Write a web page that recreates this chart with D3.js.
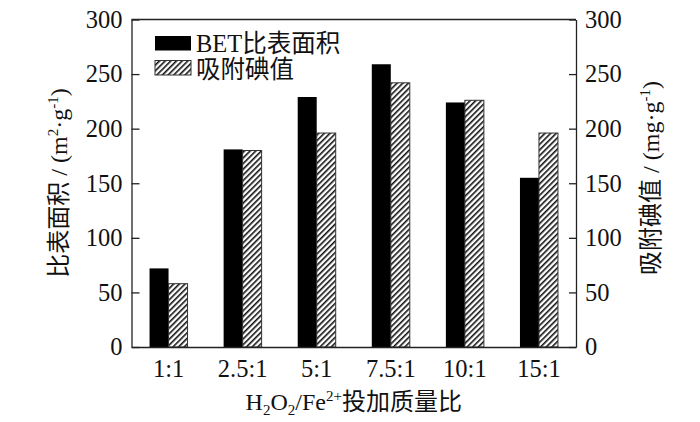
<!DOCTYPE html>
<meta charset="utf-8">
<head>
    <title>BET vs iodine</title>
    <script src="https://cdn.jsdelivr.net/npm/d3@7"></script>
    <style>
        body { margin: 0; background: #fff; }
        text { font-family: "Liberation Serif", "Noto Sans CJK SC", serif; fill: #111; }
    </style>
</head>
<body>
<div id="chart"></div>
<script>
    // data
    var ratios = ["1:1", "2.5:1", "5:1", "7.5:1", "10:1", "15:1"];
    var betArea = [72, 181, 229, 259, 224, 155];      // m2/g
    var iodine = [58, 180, 196, 242, 226, 196];       // mg/g
    var yTicks = [0, 50, 100, 150, 200, 250, 300];

    var margin = { top: 19.5, right: 124, bottom: 75, left: 131.5 },
        width = 700,
        height = 422,
        innerW = width - margin.left - margin.right,
        innerH = height - margin.top - margin.bottom;

    var svg = d3.select("#chart").append("svg")
        .attr("width", width)
        .attr("height", height);

    // hatch pattern
    var defs = svg.append("defs");
    defs.append("pattern")
        .attr("id", "hatch")
        .attr("patternUnits", "userSpaceOnUse")
        .attr("width", 4)
        .attr("height", 4)
        .attr("patternTransform", "rotate(45)")
        .append("rect")
        .attr("x", 0).attr("y", 0)
        .attr("width", 1.6).attr("height", 4)
        .attr("fill", "#111");

    var g = svg.append("g")
        .attr("transform", "translate(" + margin.left + "," + margin.top + ")");

    var x = d3.scaleBand().domain(ratios).range([0, innerW]).padding(0);
    var y = d3.scaleLinear().domain([0, 300]).range([innerH, 0]);
    var barW = 19;

    // bars
    g.selectAll(".bet").data(betArea).enter().append("rect")
        .attr("class", "bet")
        .attr("x", (d, i) => x(ratios[i]) + x.bandwidth() / 2 - barW)
        .attr("y", d => y(d))
        .attr("width", barW)
        .attr("height", d => innerH - y(d))
        .attr("fill", "#000");

    g.selectAll(".iod").data(iodine).enter().append("rect")
        .attr("class", "iod")
        .attr("x", (d, i) => x(ratios[i]) + x.bandwidth() / 2)
        .attr("y", d => y(d))
        .attr("width", barW)
        .attr("height", d => innerH - y(d))
        .attr("fill", "url(#hatch)")
        .attr("stroke", "#333")
        .attr("stroke-width", 1);

    // axes
    var left = d3.axisLeft(y).tickValues(yTicks).tickSizeInner(-8).tickSizeOuter(0).tickPadding(9);
    var right = d3.axisRight(y).tickValues(yTicks).tickSizeInner(-7).tickSizeOuter(0).tickPadding(9);
    var bottom = d3.axisBottom(x).tickSize(0).tickPadding(10);

    function styleAxis(sel) {
        sel.selectAll("path, line").attr("stroke", "#222").attr("stroke-width", 1.3);
        sel.selectAll("text").style("font-size", "24.5px").style("font-family", "Liberation Serif").attr("fill", "#111");
    }

    g.append("g").call(left).call(styleAxis);
    g.append("g").attr("transform", "translate(" + innerW + ",0)").call(right).call(styleAxis);
    g.append("g").attr("transform", "translate(0," + innerH + ")").call(bottom).call(styleAxis)
        .selectAll("text").attr("dy", "0.82em");
    // top border
    g.append("line")
        .attr("x1", 0).attr("x2", innerW).attr("y1", 0).attr("y2", 0)
        .attr("stroke", "#222").attr("stroke-width", 1.3);

    // x title
    var xt = svg.append("text")
        .attr("x", margin.left + innerW / 2)
        .attr("y", 410)
        .attr("text-anchor", "middle")
        .style("font-size", "24px");
    xt.append("tspan").text("H");
    xt.append("tspan").text("2").style("font-size", "15px").attr("dy", 5);
    xt.append("tspan").text("O").attr("dy", -5);
    xt.append("tspan").text("2").style("font-size", "15px").attr("dy", 5);
    xt.append("tspan").text("/Fe").attr("dy", -5);
    xt.append("tspan").text("2+").style("font-size", "15px").attr("dy", -9);
    xt.append("tspan").text("投加质量比").attr("dy", 9);

    // left y title
    var lt = svg.append("text")
        .attr("transform", "translate(67,183) rotate(-90)")
        .attr("text-anchor", "middle")
        .style("font-size", "24px");
    lt.append("tspan").text("比表面积 / (m");
    lt.append("tspan").text("2").style("font-size", "15px").attr("dy", -9);
    lt.append("tspan").text("·g").attr("dy", 9);
    lt.append("tspan").text("-1").style("font-size", "15px").attr("dy", -9);
    lt.append("tspan").text(")").attr("dy", 9);

    // right y title
    var rt = svg.append("text")
        .attr("transform", "translate(659,178) rotate(-90)")
        .attr("text-anchor", "middle")
        .style("font-size", "24px");
    rt.append("tspan").text("吸附碘值 / (mg·g");
    rt.append("tspan").text("-1").style("font-size", "15px").attr("dy", -9);
    rt.append("tspan").text(")").attr("dy", 9);

    // legend
    var legendItems = [
        { label: "BET比表面积", fill: "#000", stroke: "none" },
        { label: "吸附碘值", fill: "url(#hatch)", stroke: "#333" }
    ];
    var lg = svg.append("g").attr("transform", "translate(155,36)");
    lg.selectAll("rect").data(legendItems).enter().append("rect")
        .attr("x", 0).attr("y", (d, i) => i * 24.5)
        .attr("width", 36).attr("height", 14.5)
        .attr("fill", d => d.fill)
        .attr("stroke", d => d.stroke);
    lg.selectAll("text").data(legendItems).enter().append("text")
        .attr("x", 41).attr("y", (d, i) => i * 25.5 + 16)
        .style("font-size", "24.5px")
        .text(d => d.label);
</script>
</body>
